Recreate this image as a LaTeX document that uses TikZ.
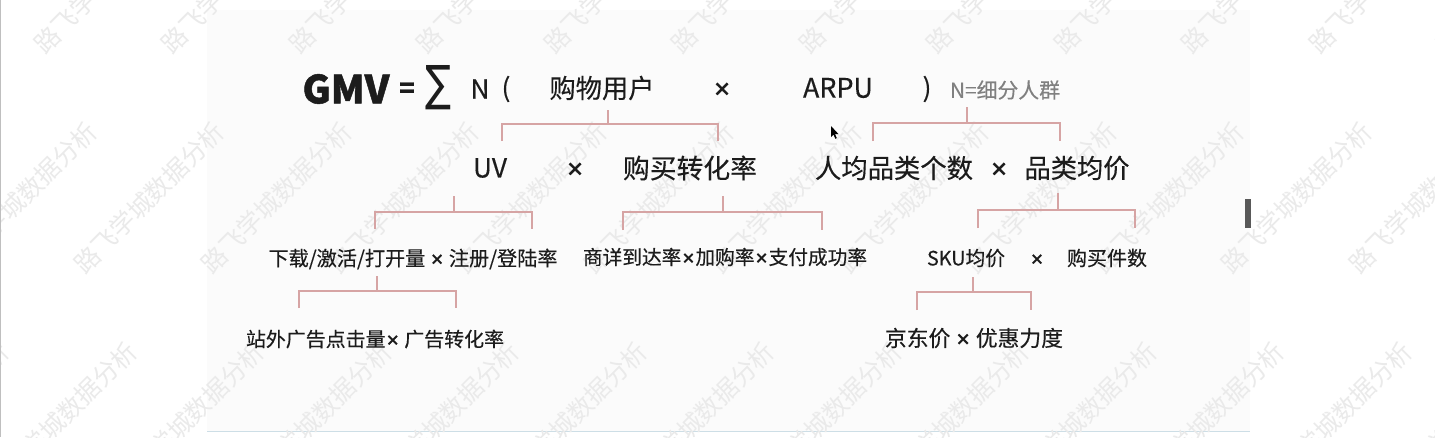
\documentclass[tikz,border=0pt]{standalone}
\usepackage{fontspec}
\usepackage{graphicx}
\setmainfont{Noto Sans CJK SC}[FakeBold=0.3]
\newfontfamily\dejavu{DejaVu Sans}
\newfontfamily\heavy{Noto Sans CJK SC}[FakeBold=1.2]
\newfontfamily\wmfont{Noto Sans CJK SC}
\definecolor{brc}{RGB}{214,164,164}
\definecolor{txt}{RGB}{28,28,28}
\definecolor{lbl}{RGB}{128,128,128}
\definecolor{slidebg}{RGB}{251,251,251}
\definecolor{edgeline}{RGB}{205,222,230}
\definecolor{wm}{RGB}{234,234,234}
\newcommand{\fitw}[2]{\resizebox{#1pt}{!}{#2}}
\newcommand{\xx}{\raisebox{0.05em}{\scalebox{0.72}{\bfseries ×}}}
\begin{document}
\begin{tikzpicture}[x=1pt,y=-1pt,
  every node/.style={inner sep=0pt,outer sep=0pt,text=txt},
  big/.style={font=\fontsize{26}{30}\selectfont},
  small/.style={font=\fontsize{20}{24}\selectfont},
  wmark/.style={font=\wmfont\fontsize{25}{28}\selectfont,text=wm,rotate=45,anchor=base west},
  br/.style={draw=brc,line width=1.3pt}]
\useasboundingbox (0,0) rectangle (1435,437);
% page
\fill[white] (0,0) rectangle (1435,437);
\fill[slidebg] (207,10) rectangle (1250,432);
\draw[edgeline,line width=1pt] (207,431.5) -- (1250,431.5);
% watermark
\begin{scope}
\clip (0,0) rectangle (1435,437);
\foreach \i in {-2,...,11}{
  \node[wmark] (wa\i) at (45+127.5*\i,55) {路飞学城数据分析};
  \node[wmark] (wb\i) at (85+127.5*\i,275) {路飞学城数据分析};
  \node[wmark] (wc\i) at (125+127.5*\i,495) {路飞学城数据分析};
}
\end{scope}
\draw[black!25,line width=1pt] (0.5,0) -- (0.5,437);
\fill[black!65] (1245,199) rectangle (1251,228);
% cursor
\fill[black] (831,126) -- (831,137) -- (833.5,134.6) -- (835.3,138.8) -- (836.8,138.1) -- (835,134) -- (838.4,134) -- cycle;
% row 1
\node[big] (gmv) at (346,89) {\fitw{87}{\bfseries\heavy GMV}};
\node[big] (eq) at (407,90) {\bfseries =};
\node (sum) at (438,88) {\resizebox{26pt}{35pt}{\dejavu ∑}};
\node[big] (n) at (480,89) {N};
\node[big] (lp) at (506,89) {(};
\node[big] (shopper) at (602,88) {\fitw{105}{购物用户}};
\node[big] (x1) at (722,90) {\xx};
\node[big] (arpu) at (838,88) {\fitw{70}{ARPU}};
\node[big] (rp) at (927,89) {)};
\node[small,text=lbl] (nlabel) at (1005,90) {\fitw{110}{N=细分人群}};
% row 2
\node[big] (uv) at (490,168) {\fitw{34}{UV}};
\node[big] (x2) at (575,170) {\xx};
\node[big] (conv) at (690,168) {\fitw{134}{购买转化率}};
\node[big] (cats) at (894,168) {\fitw{158}{人均品类个数}};
\node[big] (x3) at (999,170) {\xx};
\node[big] (catprice) at (1077,168) {\fitw{105}{品类均价}};
% row 3
\node[small] (dl) at (413,259) {\fitw{289}{下载/激活/打开量 \xx{} 注册/登陆率}};
\node[small] (funnel) at (725,257) {\fitw{284}{商详到达率\xx{}加购率\xx{}支付成功率}};
\node[small] (sku) at (966,258) {\fitw{78}{SKU均价}};
\node[small] (x4) at (1037,260) {\xx};
\node[small] (qty) at (1107,258) {\fitw{80}{购买件数}};
% row 4
\node[small] (ads) at (375,339) {\fitw{258}{站外广告点击量\xx{} 广告转化率}};
\node[small] (jd) at (974,338) {\fitw{178}{京东价 \xx{} 优惠力度}};
% brackets: coordinates
\coordinate (aT) at (608,110); \coordinate (aM) at (608,124);
\coordinate (aL) at (502,141); \coordinate (aR) at (718,141);
\coordinate (bT) at (967,107); \coordinate (bM) at (967,123);
\coordinate (bL) at (873,141); \coordinate (bR) at (1060,141);
\coordinate (cT) at (454,196); \coordinate (cM) at (454,212);
\coordinate (cL) at (375,229); \coordinate (cR) at (532,229);
\coordinate (dT) at (723,196); \coordinate (dM) at (723,212);
\coordinate (dL) at (623,230); \coordinate (dR) at (822,230);
\coordinate (eT) at (1058,193); \coordinate (eM) at (1058,210);
\coordinate (eL) at (978,228); \coordinate (eR) at (1135,228);
\coordinate (fT) at (377,276); \coordinate (fM) at (377,291);
\coordinate (fL) at (299,308); \coordinate (fR) at (456,308);
\coordinate (gT) at (973,277); \coordinate (gM) at (973,292);
\coordinate (gL) at (917,310); \coordinate (gR) at (1031,310);
\foreach \b in {a,b,c,d,e,f,g}{
  \draw[br] (\b T) -- (\b M);
  \draw[br] (\b L) |- (\b M) -| (\b R);
}
\end{tikzpicture}
\end{document}
